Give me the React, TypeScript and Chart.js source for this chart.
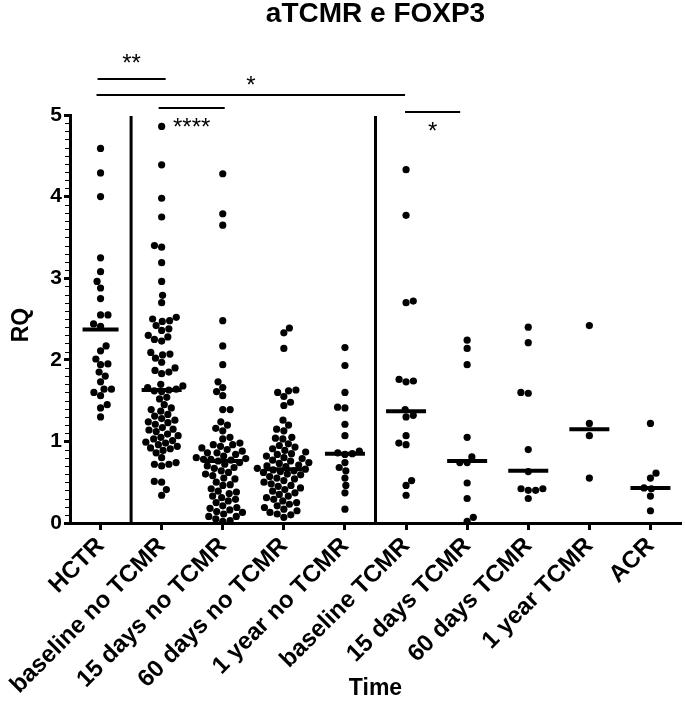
import React, { useEffect, useRef } from "react";
import { Chart, registerables } from "chart.js";

Chart.register(...registerables);

const categories = [
  "HCTR",
  "baseline no TCMR",
  "15 days no TCMR",
  "60 days no TCMR",
  "1 year no TCMR",
  "baseline TCMR",
  "15 days TCMR",
  "60 days TCMR",
  "1 year TCMR",
  "ACR",
];

const hctr = [4.59, 4.29, 4.0, 3.25, 3.08, 2.96, 2.88, 2.75, 2.55, 2.55, 2.44, 2.41, 2.17, 2.11, 2.01, 1.95, 1.94, 1.85, 1.8, 1.73, 1.64, 1.64, 1.6, 1.56, 1.45, 1.41, 1.3];

const baselineNoTcmr = [4.86, 4.39, 3.98, 3.75, 3.4, 3.38, 3.19, 2.96, 2.79, 2.7, 2.52, 2.5, 2.47, 2.48, 2.42, 2.38, 2.36, 2.3, 2.28, 2.25, 2.23, 2.09, 2.07, 2.06, 2.02, 1.97, 1.9, 1.87, 1.85, 1.83, 1.7, 1.68, 1.66, 1.64, 1.62, 1.61, 1.63, 1.54, 1.52, 1.45, 1.41, 1.39, 1.37, 1.33, 1.31, 1.28, 1.26, 1.24, 1.23, 1.21, 1.17, 1.15, 1.14, 1.12, 1.09, 1.07, 1.05, 1.03, 1.01, 0.99, 0.98, 0.96, 0.94, 0.92, 0.91, 0.89, 0.86, 0.8, 0.74, 0.72, 0.7, 0.72, 0.51, 0.5, 0.41, 0.34];

const days15NoTcmr = [4.28, 3.79, 3.65, 2.48, 2.17, 1.94, 1.73, 1.66, 1.61, 1.56, 1.39, 1.39, 1.24, 1.2, 1.16, 1.13, 1.05, 1.03, 0.98, 0.96, 0.96, 0.94, 0.92, 0.9, 0.88, 0.86, 0.86, 0.84, 0.82, 0.8, 0.79, 0.78, 0.78, 0.77, 0.76, 0.74, 0.72, 0.7, 0.68, 0.67, 0.64, 0.62, 0.6, 0.58, 0.55, 0.54, 0.5, 0.47, 0.46, 0.42, 0.39, 0.38, 0.36, 0.33, 0.31, 0.29, 0.27, 0.25, 0.21, 0.19, 0.18, 0.16, 0.14, 0.13, 0.11, 0.08, 0.08, 0.05, 0.03, 0.02];

const days60NoTcmr = [2.39, 2.33, 2.14, 1.63, 1.62, 1.6, 1.55, 1.48, 1.44, 1.26, 1.2, 1.15, 1.13, 1.05, 1.04, 1.03, 0.97, 0.95, 0.93, 0.91, 0.89, 0.87, 0.85, 0.84, 0.82, 0.8, 0.79, 0.77, 0.76, 0.74, 0.73, 0.71, 0.7, 0.69, 0.67, 0.66, 0.65, 0.64, 0.63, 0.62, 0.6, 0.59, 0.57, 0.55, 0.54, 0.52, 0.5, 0.48, 0.46, 0.45, 0.43, 0.41, 0.39, 0.37, 0.35, 0.33, 0.31, 0.29, 0.27, 0.25, 0.23, 0.21, 0.19, 0.17, 0.15, 0.13, 0.11, 0.1, 0.07];

const year1NoTcmr = [2.15, 1.93, 1.6, 1.42, 1.41, 1.21, 1.07, 0.88, 0.86, 0.85, 0.84, 0.74, 0.68, 0.64, 0.55, 0.46, 0.37, 0.17];

const baselineTcmr = [4.33, 3.77, 2.72, 2.7, 1.76, 1.74, 1.73, 1.39, 1.32, 1.3, 1.07, 0.98, 0.96, 0.52, 0.46, 0.34];

const days15Tcmr = [2.24, 2.14, 1.94, 1.05, 0.81, 0.74, 0.74, 0.49, 0.3, 0.07, 0.02];

const days60Tcmr = [2.4, 2.21, 1.6, 1.59, 0.9, 0.63, 0.42, 0.4, 0.4, 0.42, 0.3];

const year1Tcmr = [2.42, 1.22, 1.07, 0.55];

const acr = [1.22, 0.61, 0.55, 0.43, 0.42, 0.33, 0.15];

const groups = [hctr, baselineNoTcmr, days15NoTcmr, days60NoTcmr, year1NoTcmr, baselineTcmr, days15Tcmr, days60Tcmr, year1Tcmr, acr];

const medians = [2.37, 1.63, 0.76, 0.66, 0.85, 1.37, 0.76, 0.64, 1.15, 0.43];

const yTicks = [0, 1, 2, 3, 4, 5];

const separators = [0.5, 4.5];

const comparisons = [
  { from: 0, to: 1, label: "**" },
  { from: 0, to: 5, label: "*" },
  { from: 1, to: 2, label: "****" },
  { from: 5, to: 6, label: "*" },
];

const titleText = "aTCMR e FOXP3";
const yTitle = "RQ";
const xTitle = "Time";

// ---- layout / style ----
const W = 685;
const H = 714;
const AREA_LEFT = 70;
const AREA_RIGHT = 681;
const AREA_TOP = 115;
const AREA_BOTTOM = 523;
const FONT = "'Liberation Sans', Arial, Helvetica, sans-serif";
const DOT_D = 7.4;

const pxPerX = (AREA_RIGHT - AREA_LEFT) / categories.length;
const pxPerY = (AREA_BOTTOM - AREA_TOP) / (yTicks[yTicks.length - 1] - yTicks[0]);

function swarmOffsets(values: number[]): number[] {
  const order = values.map((_, i) => i).sort((a, b) => values[a] - values[b]);
  const placed: { x: number; y: number }[] = [];
  const offs = new Array(values.length).fill(0);
  let flip = 1;
  for (const i of order) {
    const y = values[i] * pxPerY;
    const near = placed.filter((p) => Math.abs(p.y - y) < DOT_D);
    const cands = [0];
    for (const p of near) {
      const dx = Math.sqrt(DOT_D * DOT_D - (p.y - y) * (p.y - y));
      cands.push(p.x + dx, p.x - dx);
    }
    cands.sort((a, b) => {
      const d = Math.abs(a) - Math.abs(b);
      if (Math.abs(d) > 1e-6) return d;
      return (b - a) * flip;
    });
    let chosen = 0;
    for (const c of cands) {
      if (near.every((p) => (p.x - c) ** 2 + (p.y - y) ** 2 >= DOT_D * DOT_D - 1e-3)) {
        chosen = c;
        break;
      }
    }
    if (chosen !== 0) flip = -flip;
    placed.push({ x: chosen, y });
    offs[i] = chosen / pxPerX;
  }
  return offs;
}

const barLayout = [
  { y: 79, textY: 58, dx1: -3, dx2: 4 },
  { y: 95, textY: 80, dx1: -4, dx2: -1 },
  { y: 108, textY: 122, dx1: -3, dx2: 2 },
  { y: 112, textY: 126, dx1: -1, dx2: -7 },
];

const noPadding = (scale: any) => {
  scale._calculatePadding = function () {
    this.paddingLeft = 0;
    this.paddingRight = 0;
    this.paddingTop = 0;
    this.paddingBottom = 0;
  };
};

const overlayPlugin = {
  id: "overlay",
  beforeDatasetsDraw(chart: any) {
    const { ctx, scales } = chart;
    const xs = scales.x;
    const ys = scales.y;
    ctx.save();
    ctx.strokeStyle = "#000";
    ctx.lineWidth = 3;
    for (const s of separators) {
      const px = xs.getPixelForValue(s);
      ctx.beginPath();
      ctx.moveTo(px, ys.getPixelForValue(0));
      ctx.lineTo(px, ys.getPixelForValue(5) + 1);
      ctx.stroke();
    }
    ctx.restore();
  },
  afterDraw(chart: any) {
    const { ctx, scales } = chart;
    const xs = scales.x;
    const ys = scales.y;
    ctx.save();
    ctx.fillStyle = "#000";
    ctx.strokeStyle = "#000";

    // minor y ticks
    ctx.lineWidth = 1;
    for (let v = 0; v <= 5.0001; v += 0.1) {
      const py = Math.round(ys.getPixelForValue(v)) + 0.5;
      ctx.beginPath();
      ctx.moveTo(xs.left - 5, py);
      ctx.lineTo(xs.left, py);
      ctx.stroke();
    }

    // significance bars
    ctx.lineWidth = 2;
    comparisons.forEach((c, k) => {
      const lay = barLayout[k];
      const x1 = xs.getPixelForValue(c.from) + lay.dx1;
      const x2 = xs.getPixelForValue(c.to) + lay.dx2;
      ctx.beginPath();
      ctx.moveTo(x1, lay.y);
      ctx.lineTo(x2, lay.y);
      ctx.stroke();
      ctx.font = `24px ${FONT}`;
      ctx.textAlign = "center";
      ctx.textBaseline = "alphabetic";
      ctx.fillText(c.label, (x1 + x2) / 2, lay.textY + 13);
    });

    // title
    ctx.font = `bold 28px ${FONT}`;
    ctx.textAlign = "center";
    ctx.textBaseline = "middle";
    ctx.fillText(titleText, (xs.left + xs.right) / 2, 14);

    // x title
    ctx.font = `bold 23px ${FONT}`;
    ctx.fillText(xTitle, (xs.left + xs.right) / 2, 689);

    // y title
    ctx.translate(22, (ys.top + ys.bottom) / 2 + 6);
    ctx.rotate(-Math.PI / 2);
    ctx.fillText(yTitle, 0, 0);
    ctx.restore();
  },
};

export default function App() {
  const ref = useRef<HTMLCanvasElement | null>(null);

  useEffect(() => {
    if (!ref.current) return;
    const dots: { x: number; y: number }[] = [];
    groups.forEach((g, i) => {
      const offs = swarmOffsets(g);
      g.forEach((v, j) => dots.push({ x: i + offs[j], y: v }));
    });
    const medianPts = medians.map((m, i) => ({ x: i, y: m }));

    const chart = new Chart(ref.current, {
      type: "scatter",
      data: {
        datasets: [
          {
            label: "median",
            data: medianPts,
            pointStyle: "line",
            pointRadius: medians.map((_, i) => (i === 0 ? 18 : 20)),
            pointBorderWidth: 4,
            borderColor: "#000",
            backgroundColor: "#000",
            showLine: false,
            clip: false,
          } as any,
          {
            label: "RQ",
            data: dots,
            pointRadius: 3.6,
            pointBorderWidth: 0,
            backgroundColor: "#000",
            borderColor: "#000",
            clip: false,
          } as any,
        ],
      },
      options: {
        animation: false,
        responsive: false,
        maintainAspectRatio: false,
        events: [],
        layout: {
          autoPadding: false,
          padding: { top: AREA_TOP, right: W - AREA_RIGHT, left: 0, bottom: 0 },
        },
        plugins: {
          legend: { display: false },
          tooltip: { enabled: false },
          title: { display: false },
        },
        scales: {
          x: {
            type: "linear",
            min: -0.5,
            max: categories.length - 0.5,
            beforeUpdate: noPadding,
            afterBuildTicks: (scale: any) => {
              scale.ticks = categories.map((_, i) => ({ value: i }));
            },
            afterFit: (scale: any) => {
              scale.height = H - AREA_BOTTOM;
              scale.paddingLeft = 0;
              scale.paddingRight = 0;
            },
            ticks: {
              autoSkip: false,
              maxRotation: 45,
              minRotation: 45,
              padding: 2,
              color: "#000",
              font: { family: FONT, size: 24, weight: "bold" },
              callback: (v: any) => categories[Math.round(Number(v))] ?? "",
            },
            grid: {
              drawOnChartArea: false,
              drawTicks: true,
              tickLength: 7,
              tickWidth: 3,
              tickColor: "#000",
            },
            border: { display: true, width: 3, color: "#000" },
          },
          y: {
            type: "linear",
            min: yTicks[0],
            max: yTicks[yTicks.length - 1],
            beforeUpdate: noPadding,
            afterBuildTicks: (scale: any) => {
              scale.ticks = yTicks.map((v) => ({ value: v }));
            },
            afterFit: (scale: any) => {
              scale.width = AREA_LEFT;
              scale.paddingTop = 0;
              scale.paddingBottom = 0;
            },
            ticks: {
              padding: 2,
              color: "#000",
              font: { family: FONT, size: 21, weight: "bold" },
              callback: (v: any) => String(v),
            },
            grid: {
              drawOnChartArea: false,
              drawTicks: true,
              tickLength: 6,
              tickWidth: 3,
              tickColor: "#000",
            },
            border: { display: true, width: 3, color: "#000" },
          },
        },
      } as any,
      plugins: [overlayPlugin],
    });
    return () => chart.destroy();
  }, []);

  return (
    <div style={{ position: "absolute", left: 0, top: 0, width: W, height: H, background: "#fff" }}>
      <canvas ref={ref} width={W} height={H} style={{ width: W, height: H, display: "block" }} />
    </div>
  );
}
